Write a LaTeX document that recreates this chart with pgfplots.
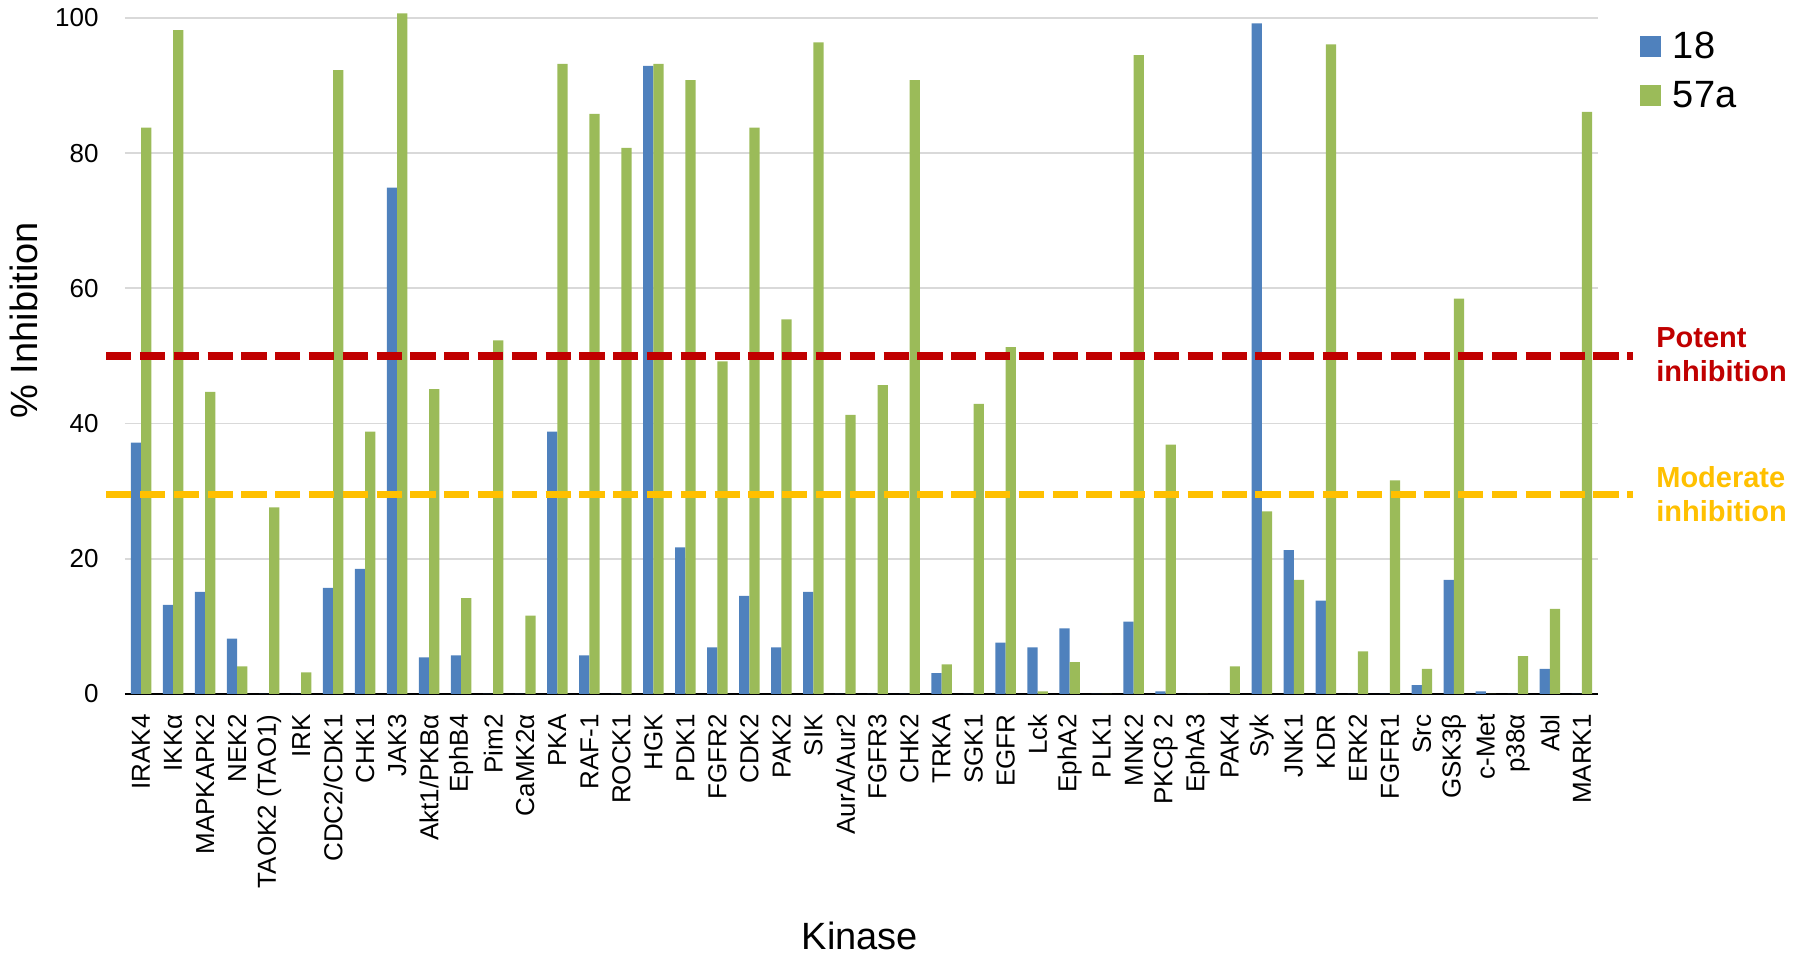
\documentclass[border=0pt]{standalone}
\usepackage{fontspec}
\setmainfont{Liberation Sans}
\usepackage{pgfplots}
\usepackage{pgfplotstable}
\pgfplotsset{compat=1.18}
\definecolor{cblue}{HTML}{4F81BD}
\definecolor{cgreen}{HTML}{9BBB59}
\definecolor{cred}{HTML}{C00000}
\definecolor{cyellow}{HTML}{FFC000}
\definecolor{cgrid}{HTML}{D9D9D9}
\pgfplotstableread{
x a b
0 37.2 83.8
1 13.2 98.2
2 15.1 44.7
3 8.2 4.1
4 0 27.6
5 0 3.2
6 15.7 92.3
7 18.5 38.8
8 74.9 100.7
9 5.4 45.1
10 5.7 14.2
11 0 52.3
12 0 11.6
13 38.8 93.2
14 5.7 85.8
15 0 80.8
16 92.9 93.2
17 21.7 90.8
18 6.9 49.2
19 14.5 83.8
20 6.9 55.4
21 15.1 96.4
22 0 41.3
23 0 45.7
24 0 90.8
25 3.1 4.4
26 0 42.9
27 7.6 51.3
28 6.9 0.4
29 9.7 4.7
30 0 0
31 10.7 94.5
32 0.4 36.9
33 0 0
34 0 4.1
35 99.2 27.0
36 21.3 16.9
37 13.8 96.1
38 0 6.3
39 0 31.6
40 1.3 3.7
41 16.9 58.5
42 0.4 0
43 0 5.6
44 3.7 12.6
45 0 86.1
}\datatable
\begin{document}
\begin{tikzpicture}
\useasboundingbox (0,0) rectangle (900pt,478.5pt);
\begin{axis}[
  at={(62.5pt,131.5pt)}, anchor=south west,
  width=736.5pt, height=338pt, scale only axis,
  xmin=-0.5, xmax=45.5, ymin=0, ymax=100,
  clip=false,
  axis x line*=bottom, axis y line*=left,
  separate axis lines,
  x axis line style={black, line width=1.3pt, -},
  y axis line style={draw=none},
  major tick length=0pt,
  ytick={0,20,40,60,80,100},
  ymajorgrids, grid style={cgrid, line width=0.9pt},
  xtick={0,...,45},
  xticklabels={{IRAK4},{IKKα},{MAPKAPK2},{NEK2},{TAOK2 (TAO1)},{IRK},{CDC2/CDK1},{CHK1},{JAK3},{Akt1/PKBα},{EphB4},{Pim2},{CaMK2α},{PKA},{RAF-1},{ROCK1},{HGK},{PDK1},{FGFR2},{CDK2},{PAK2},{SIK},{AurA/Aur2},{FGFR3},{CHK2},{TRKA},{SGK1},{EGFR},{Lck},{EphA2},{PLK1},{MNK2},{PKCβ 2},{EphA3},{PAK4},{Syk},{JNK1},{KDR},{ERK2},{FGFR1},{Src},{GSK3β},{c-Met},{p38α},{Abl},{MARK1}},
  xticklabel style={rotate=90, anchor=east, inner sep=0pt, font=\fontsize{13}{15}\selectfont},
  xticklabel shift=10pt,
  yticklabel style={anchor=east, inner sep=0pt, font=\fontsize{13}{15}\selectfont},
  yticklabel shift=13pt,
  /pgf/number format/assume math mode=true,
  xlabel={Kinase},
  xlabel style={at={(axis cs:22.45,-37.87)}, anchor=base, font=\fontsize{19}{22}\selectfont},
  ylabel={\% Inhibition},
  ylabel style={at={(axis cs:-3.22,55.3)}, rotate=0, anchor=base, font=\fontsize{19}{22}\selectfont},
  legend style={draw=none, fill=none, inner sep=0pt, outer sep=0pt,
    at={(axis cs:46.81,98.08)}, anchor=north west,
    font=\fontsize{19}{22}\selectfont, row sep=10.5pt,
    nodes={inner sep=0pt, text height=14pt, text depth=0pt},
    /tikz/every odd column/.append style={column sep=6pt}},
  legend cell align=left,
]
\addplot[ybar, bar width=0.32, bar shift=-0.16, fill=cblue, draw=none,
  legend image code/.code={\fill[cblue] (0pt,-6pt) rectangle (10.5pt,4.5pt);}]
  table[x=x, y=a]{\datatable};
\addlegendentry{18}
\addplot[ybar, bar width=0.32, bar shift=0.16, fill=cgreen, draw=none,
  legend image code/.code={\fill[cgreen] (0pt,-6pt) rectangle (10.5pt,4.5pt);}]
  table[x=x, y=b]{\datatable};
\addlegendentry{57a}
\addplot[cred, line width=3.75pt, dash pattern=on 12.65pt off 4.25pt, forget plot]
  coordinates {(-1.09,50) (46.59,50)};
\addplot[cyellow, line width=3.75pt, dash pattern=on 12.65pt off 4.25pt, forget plot]
  coordinates {(-1.09,29.5) (46.59,29.5)};
\node[anchor=base west, inner sep=0pt, text=cred, font=\bfseries\fontsize{14.5}{17}\selectfont] at (axis cs:47.31,51.33) {Potent};
\node[anchor=base west, inner sep=0pt, text=cred, font=\bfseries\fontsize{14.5}{17}\selectfont] at (axis cs:47.31,46.30) {inhibition};
\node[anchor=base west, inner sep=0pt, text=cyellow, font=\bfseries\fontsize{14.5}{17}\selectfont] at (axis cs:47.31,30.62) {Moderate};
\node[anchor=base west, inner sep=0pt, text=cyellow, font=\bfseries\fontsize{14.5}{17}\selectfont] at (axis cs:47.31,25.59) {inhibition};
\end{axis}
\end{tikzpicture}
\end{document}
